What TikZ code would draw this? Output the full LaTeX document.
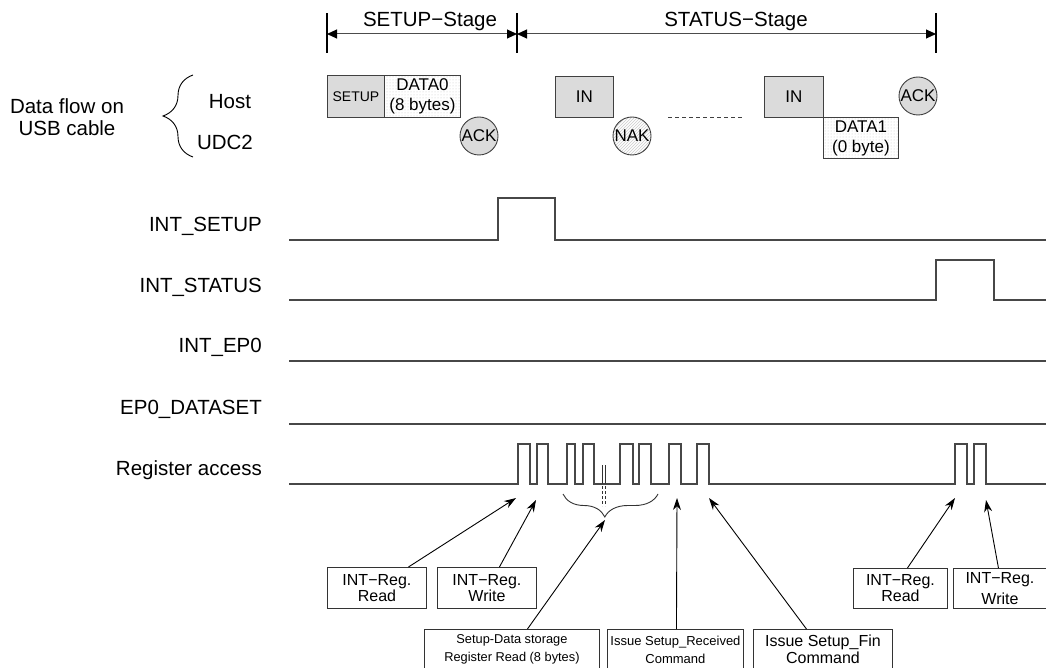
\documentclass[tikz,border=0pt]{standalone}
\usepackage{fontspec}
\setmainfont{Liberation Sans}
\usetikzlibrary{arrows.meta,patterns,decorations.pathreplacing,calc}
\newcommand\myfs[2]{\fontsize{#1}{#2}\selectfont}
\begin{document}
\begin{tikzpicture}[x=1pt,y=-1pt,
  sig/.style={draw=black!72,line width=1.2pt},
  siglbl/.style={anchor=east,inner sep=0pt,font=\myfs{20.5}{24}},
  bigtxt/.style={inner sep=0pt,font=\myfs{20.5}{22},align=center},
  pkt/.style={draw=black!75,line width=0.9pt,fill=black!14,inner sep=0pt,anchor=north west,font=\myfs{17}{20}},
  datapkt/.style={draw=black!75,line width=0.9pt,pattern=dots,pattern color=black!22,inner sep=0pt,anchor=north west,font=\myfs{17}{20},align=center},
  hs/.style={circle,draw=black!75,line width=0.9pt,minimum size=38pt,inner sep=0pt,font=\myfs{17}{20}},
  stagebar/.style={line width=2.2pt,black},
  stagearr/.style={draw=black!70,line width=1pt,{Triangle[length=10pt,width=9pt,fill=black,color=black]}-{Triangle[length=10pt,width=9pt,fill=black,color=black]}},
  note/.style={draw=black!80,line width=0.9pt,inner sep=0pt,anchor=north west,align=center},
  callout/.style={draw=black,line width=0.9pt,-{Stealth[length=12pt,width=8pt]}},
]
\useasboundingbox (0,0) rectangle (1046,668);
\fill[white] (0,0) rectangle (1046,668);

% ---------- stage markers ----------
\coordinate (b1) at (327,34);
\coordinate (b2) at (517,34);
\coordinate (b3) at (936,34);
\foreach \b in {b1,b2,b3}{\draw[stagebar] ([yshift=-19pt]\b) -- ([yshift=21pt]\b);}
\draw[stagearr] (b1) -- (b2);
\draw[stagearr] (b2) -- (b3);
\node[bigtxt] (setupstage) at (430,21) {SETUP−Stage};
\node[bigtxt] (statusstage) at (736,21) {STATUS−Stage};

% ---------- left labels ----------
\node[bigtxt] (dataflow) at (67,117) {Data flow on\\USB cable};
\draw[line width=0.9pt,decorate,decoration={brace,amplitude=30pt}] (193,157) -- (193,75);
\node[bigtxt] (host) at (230,102) {Host};
\node[bigtxt] (udc) at (225,142) {UDC2};

% ---------- packets ----------
\node[pkt,minimum width=57pt,minimum height=42pt,font=\myfs{14}{16}] (setup) at (327,75) {SETUP};
\node[datapkt,minimum width=76pt,minimum height=42pt] (data0) at (384,75) {DATA0\\(8 bytes)};
\node[hs,fill=black!14] (ack1) at (479,136) {ACK};
\node[pkt,minimum width=58pt,minimum height=41pt] (in1) at (555,76) {IN};
\node[hs,pattern=north east lines,pattern color=black!20] (nak) at (632,136) {NAK};
\draw[black!75,line width=0.9pt,dash pattern=on 4pt off 3pt] (668,117) -- (743,117);
\node[pkt,minimum width=59pt,minimum height=41pt] (in2) at (764,76) {IN};
\node[datapkt,minimum width=75pt,minimum height=41pt] (data1) at (823,117) {DATA1\\(0 byte)};
\node[hs,fill=black!14] (ack2) at (918,96) {ACK};

% ---------- signal labels ----------
\node[siglbl] (lsetup) at (262,226) {INT\_SETUP};
\node[siglbl] (lstatus) at (262,287) {INT\_STATUS};
\node[siglbl] (lep0) at (262,347) {INT\_EP0};
\node[siglbl] (ldataset) at (262,409) {EP0\_DATASET};
\node[siglbl] (lreg) at (262,470) {Register access};

% ---------- waveforms ----------
\draw[sig] (289,240) -| (498,198) -| (555,240) -- (1046,240);
\draw[sig] (289,300) -| (936,260) -| (994,300) -- (1046,300);
\draw[sig] (289,361) -- (1046,361);
\draw[sig] (289,424) -- (1046,424);
\draw[sig] (289,484)
  foreach \a/\b in {518/530,537/548,567/575,583/594,620/633,639/651,669/681,697/709,955/967,974/986}
  { -| (\a,444) -| (\b,484) } -- (1046,484);
\draw[black!80,line width=0.8pt] (602,465) -- (602,484) (605,465) -- (605,484);
\draw[black!80,line width=0.8pt,dash pattern=on 3pt off 2pt] (602,486) -- (602,506) (605,486) -- (605,506);
\draw[black!80,line width=0.9pt,decorate,decoration={brace,amplitude=23pt,aspect=0.56}] (658,494) -- (563,494);

% ---------- arrow targets ----------
\coordinate (t1) at (516,498);
\coordinate (t2) at (536,500);
\coordinate (t3) at (605,520);
\coordinate (t4) at (677,498);
\coordinate (t5) at (709,498);
\coordinate (t6) at (955,498);
\coordinate (t7) at (986,500);

% ---------- note boxes ----------
\node[note,minimum width=99pt,minimum height=41pt,font=\myfs{16}{14.5}] (r1) at (327,567) {INT−Reg.\\Read};
\node[note,minimum width=99pt,minimum height=41pt,font=\myfs{16}{14.5}] (w1) at (437,567) {INT−Reg.\\Write};
\node[note,minimum width=175pt,minimum height=40pt,font=\myfs{12.8}{18}] (sd) at (424,629) {Setup-Data storage\\Register Read (8 bytes)};
\node[note,minimum width=136pt,minimum height=40pt,font=\myfs{13}{18}] (sr) at (607,629) {Issue Setup\_Received\\Command};
\node[note,minimum width=139pt,minimum height=40pt,font=\myfs{16}{17}] (sf) at (753,629) {Issue Setup\_Fin\\Command};
\node[note,minimum width=94pt,minimum height=40pt,font=\myfs{16}{14.5}] (r2) at (853,568) {INT−Reg.\\Read};
\node[note,minimum width=93pt,minimum height=40pt,font=\myfs{16}{18}] (w2) at (953,568) {\raisebox{3pt}{INT−Reg.}\\Write};

% ---------- callouts ----------
\draw[callout] ([xshift=31.5pt]r1.north) -- (t1);
\draw[callout] ([xshift=12.5pt]w1.north) -- (t2);
\draw[callout] ([xshift=15.5pt]sd.north) -- (t3);
\draw[callout] ([xshift=1pt]sr.north) -- (t4);
\draw[callout] ([xshift=-16.5pt]sf.north) -- (t5);
\draw[callout] ([xshift=7pt]r2.north) -- (t6);
\draw[callout] ([xshift=-1.5pt]w2.north) -- (t7);
\end{tikzpicture}
\end{document}
